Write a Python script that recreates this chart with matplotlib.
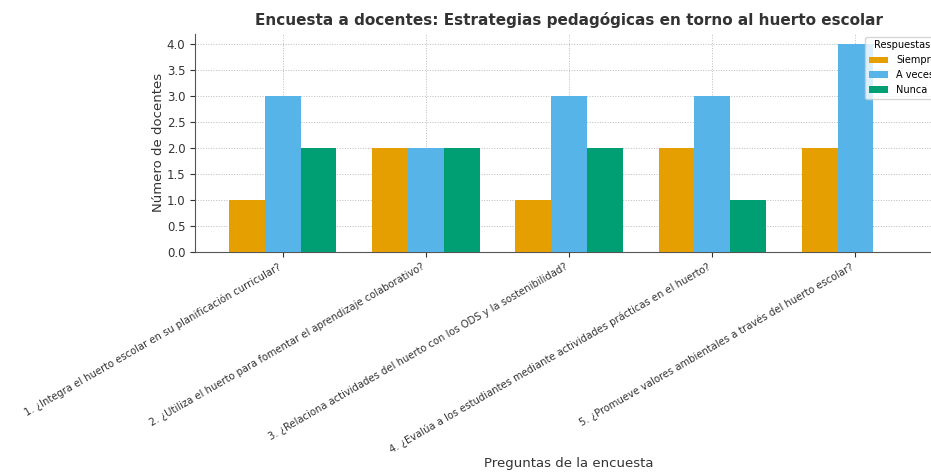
import numpy as np
import matplotlib
matplotlib.use('Agg')
import matplotlib.pyplot as plt

plt.rcParams.update({'font.size': 8})

QUESTIONS = [
    '1. ¿Integra el huerto escolar en su planificación curricular?',
    '2. ¿Utiliza el huerto para fomentar el aprendizaje colaborativo?',
    '3. ¿Relaciona actividades del huerto con los ODS y la sostenibilidad?',
    '4. ¿Evalúa a los estudiantes mediante actividades prácticas en el huerto?',
    '5. ¿Promueve valores ambientales a través del huerto escolar?',
]
SIEMPRE = [1, 2, 1, 2, 2]
A_VECES = [3, 2, 3, 3, 4]
NUNCA = [2, 2, 2, 1, 0]
SERIES = ['Siempre', 'A veces', 'Nunca']
COLORS = ['#E69F00', '#56B4E9', '#009E73']


def main():
    fig = plt.figure(figsize=(9.31, 4.74), dpi=100)
    ax = fig.add_axes([0.2095, 0.4684, 0.8035, 0.4606])

    x = np.arange(len(QUESTIONS))
    width = 0.25
    values = [SIEMPRE, A_VECES, NUNCA]
    for i, (name, vals, col) in enumerate(zip(SERIES, values, COLORS)):
        ax.bar(x + (i - 1) * width, vals, width=width, color=col, label=name, zorder=3)

    ax.set_xticks(x)
    ax.set_xticklabels(QUESTIONS, rotation=30, ha='right', color='#333333', fontsize=7.2)
    ax.set_yticks(np.arange(0, 4.01, 0.5))
    ax.tick_params(axis='y', colors='#333333', labelsize=8.5)
    ax.tick_params(axis='x', colors='#333333')
    ax.set_ylabel('Número de docentes', fontsize=9.5, color='#333333', labelpad=1)
    ax.set_xlabel('Preguntas de la encuesta', fontsize=9.5, color='#333333', labelpad=1)
    ax.set_title('Encuesta a docentes: Estrategias pedagógicas en torno al huerto escolar',
                 fontsize=11, fontweight='bold', color='#333333', pad=6)

    ax.grid(True, linestyle=':', linewidth=0.7, color='#bbbbbb', zorder=0)
    ax.spines['top'].set_visible(False)
    ax.spines['right'].set_visible(False)
    ax.spines['left'].set_color('#555555')
    ax.spines['bottom'].set_color('#555555')

    ax.legend(title='Respuestas', loc='upper right', fontsize=7, title_fontsize=7,
              borderaxespad=0.3)

    fig.savefig('out.png', dpi=100)


if __name__ == '__main__':
    main()
